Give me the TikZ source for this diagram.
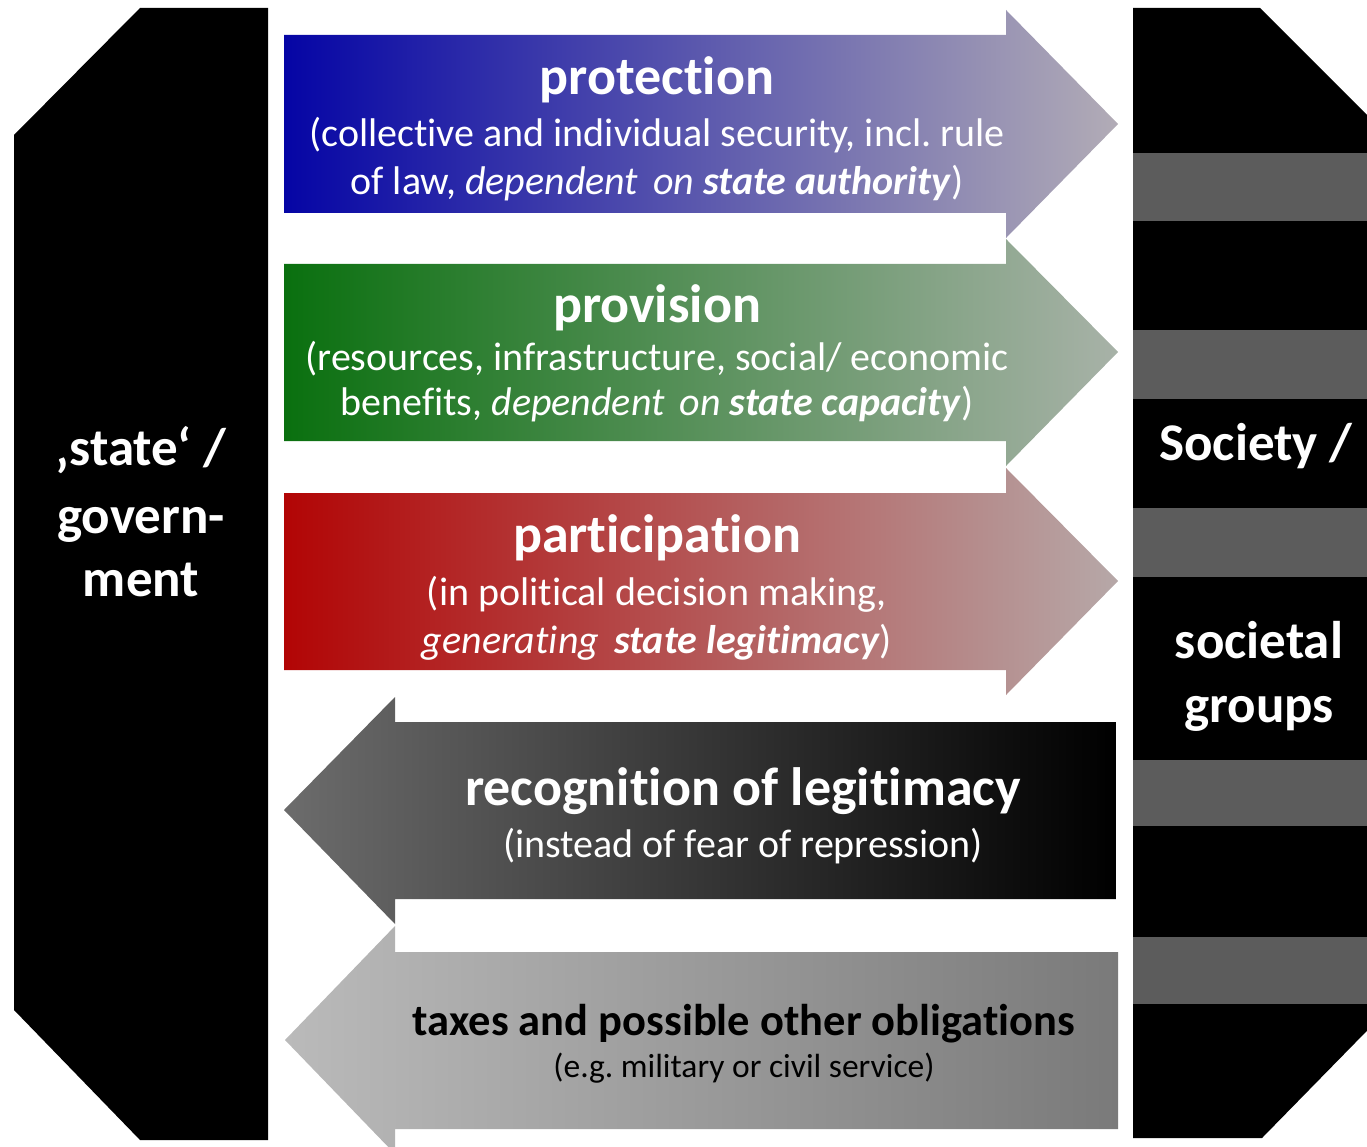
\documentclass[tikz,border=0pt]{standalone}
\usepackage{fontspec}
\setmainfont[Ligatures={NoCommon,NoRare}]{Carlito}
\frenchspacing
% keep "t" and "i" (and "f" and "i") as separate glyphs
\newcommand{\tiX}{t\kern0pt i}
\newcommand{\fiX}{f\kern0pt i}
\definecolor{protL}{RGB}{5,5,165}
\definecolor{protR}{RGB}{178,172,182}
\definecolor{provL}{RGB}{10,112,15}
\definecolor{provR}{RGB}{168,178,168}
\definecolor{partL}{RGB}{178,5,5}
\definecolor{partR}{RGB}{182,168,168}
\definecolor{recL}{RGB}{108,108,108}
\definecolor{recR}{RGB}{0,0,0}
\definecolor{taxL}{RGB}{186,186,186}
\definecolor{taxM}{RGB}{230,230,230}
\definecolor{taxR}{RGB}{122,122,122}
\definecolor{stripe}{RGB}{92,92,92}
\begin{document}
\begin{tikzpicture}[x=1pt,y=-1pt,
  ttl/.style={anchor=base, text=white, inner sep=0pt, font=\fontsize{54}{60}\selectfont\bfseries},
  sub/.style={anchor=base, text=white, inner sep=0pt, font=\fontsize{40}{48}\selectfont},
  side/.style={anchor=base, text=white, inner sep=0pt, font=\fontsize{53}{60}\selectfont\bfseries},
  taxttl/.style={anchor=base, text=black, inner sep=0pt, font=\fontsize{44.5}{52}\selectfont\bfseries},
  taxsub/.style={anchor=base, text=black, inner sep=0pt, font=\fontsize{33.5}{40}\selectfont}]
\useasboundingbox (0,0) rectangle (1367,1147);
\begin{scope}
\clip (0,0) rectangle (1367,1147);

% left block: state / government
\fill[black] (14,135) -- (140,8) -- (268,8) -- (268,1140) -- (140,1140) -- (14,1010) -- cycle;

% right block: society / societal groups, with gray stripes
\fill[black] (1133,8) -- (1260,8) -- (1400,148) -- (1400,997) -- (1262,1138) -- (1133,1138) -- cycle;
\foreach \a/\b in {153/221,330/399,508/577,760/826,937/1004}
  \fill[stripe] (1133,\a) rectangle (1400,\b);

% arrows towards society
\shade[left color=protL, right color=protR]
  (284,35) -- (1006,35) -- (1006,10) -- (1118,124) -- (1006,238) -- (1006,213) -- (284,213) -- cycle;
\shade[left color=provL, right color=provR]
  (284,264) -- (1006,264) -- (1006,239) -- (1118,352) -- (1006,466) -- (1006,441) -- (284,441) -- cycle;
\shade[left color=partL, right color=partR]
  (284,493) -- (1006,493) -- (1006,468) -- (1118,581) -- (1006,695) -- (1006,670) -- (284,670) -- cycle;

% arrows towards the state
\shade[left color=recL, right color=recR]
  (1116,722) -- (395,722) -- (395,697) -- (284,810) -- (395,924) -- (395,899) -- (1116,899) -- cycle;
\shade[left color=taxL, middle color=taxM, right color=taxR]
  (1118,952) -- (395,952) -- (395,926) -- (285,1040) -- (395,1154) -- (395,1129) -- (1118,1129) -- cycle;
\end{scope}

% side labels
\node[side] (st1) at (141,465) {‚state‘ /};
\node[side] (st2) at (141,533) {govern-};
\node[side] (st3) at (141,596) {ment};
\node[side] (so1) at (1256,460) {Society /};
\node[side] (so2) at (1259,658) {societal};
\node[side] (so3) at (1259,722) {groups};

% protection
\node[ttl] (pt) at (657,95) {protection};
\node[sub] (pa) at (657,147) {(collec\tiX{}ve and individual security, incl. rule};
\node[sub] (pb) at (657,195) {of law, \textit{dependent\hspace{0.15em} on \textbf{state authority}})};

% provision
\node[ttl] (vt) at (657,323) {provision};
\node[sub] (va) at (657,370) {(resources, infrastructure, social/ economic};
\node[sub] (vb) at (657,415) {bene\fiX{}ts, \textit{dependent\hspace{0.15em} on \textbf{state capacity}})};

% participation
\node[ttl] (qt) at (657,552) {par\tiX{}cipa\tiX{}on};
\node[sub] (qa) at (657,605) {(in poli\tiX{}cal decision making,};
\node[sub] (qb) at (657,653) {\textit{genera\tiX{}ng\hspace{0.15em} \textbf{state legi\tiX{}macy}})};

% recognition of legitimacy
\node[ttl] (rt) at (743,805) {recogni\tiX{}on of legi\tiX{}macy};
\node[sub] (ra) at (743,857) {(instead of fear of repression)};

% taxes
\node[taxttl] (tt) at (744,1035) {taxes and possible other obliga\tiX{}ons};
\node[taxsub] (ta) at (744,1077) {(e.g. military or civil service)};
\end{tikzpicture}
\end{document}
